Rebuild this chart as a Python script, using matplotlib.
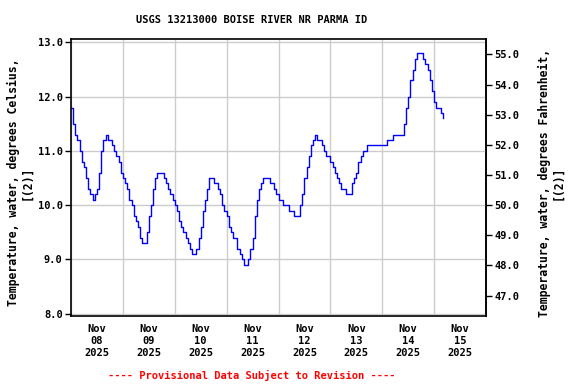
import numpy as np
import pandas as pd
import matplotlib
matplotlib.use("Agg")
import matplotlib.pyplot as plt
import matplotlib.dates as mdates

# hourly water temperature (deg C), starting 2025-11-08 00:00
temp_c = [
    11.8, 11.5, 11.3, 11.2, 11.0, 10.8, 10.7, 10.5, 10.3, 10.2, 10.1, 10.2,
    10.3, 10.6, 11.0, 11.2, 11.3, 11.2, 11.2, 11.1, 11.0, 10.9, 10.8, 10.6,
    10.5, 10.4, 10.3, 10.1, 10.0, 9.8, 9.7, 9.6, 9.4, 9.3, 9.3, 9.5,
    9.8, 10.0, 10.3, 10.5, 10.6, 10.6, 10.6, 10.5, 10.4, 10.3, 10.2, 10.1,
    10.0, 9.9, 9.7, 9.6, 9.5, 9.4, 9.3, 9.2, 9.1, 9.1, 9.2, 9.4,
    9.6, 9.9, 10.1, 10.3, 10.5, 10.5, 10.4, 10.4, 10.3, 10.2, 10.0, 9.9,
    9.8, 9.6, 9.5, 9.4, 9.4, 9.2, 9.1, 9.0, 8.9, 8.9, 9.0, 9.2,
    9.4, 9.8, 10.1, 10.3, 10.4, 10.5, 10.5, 10.5, 10.4, 10.4, 10.3, 10.2,
    10.1, 10.1, 10.0, 10.0, 10.0, 9.9, 9.9, 9.8, 9.8, 9.8, 10.0, 10.2,
    10.5, 10.7, 10.9, 11.1, 11.2, 11.3, 11.2, 11.2, 11.1, 11.0, 10.9, 10.9,
    10.8, 10.7, 10.6, 10.5, 10.4, 10.3, 10.3, 10.2, 10.2, 10.2, 10.4, 10.5,
    10.6, 10.8, 10.9, 11.0, 11.0, 11.1, 11.1, 11.1, 11.1, 11.1, 11.1, 11.1,
    11.1, 11.1, 11.2, 11.2, 11.2, 11.3, 11.3, 11.3, 11.3, 11.3, 11.5, 11.8,
    12.0, 12.3, 12.5, 12.7, 12.8, 12.8, 12.8, 12.7, 12.6, 12.5, 12.3, 12.1,
    11.9, 11.8, 11.8, 11.7, 11.6,
]
times = pd.date_range("2025-11-08 00:00", periods=len(temp_c), freq="h")

c_ticks = [8.0, 9.0, 10.0, 11.0, 12.0, 13.0]
f_ticks = [47.0, 48.0, 49.0, 50.0, 51.0, 52.0, 53.0, 54.0, 55.0]
day_lines = pd.date_range("2025-11-08", "2025-11-16", freq="D")
day_labels = pd.date_range("2025-11-08 12:00", periods=8, freq="D")

title = "USGS 13213000 BOISE RIVER NR PARMA ID"
footer = "---- Provisional Data Subject to Revision ----"

font = {"family": "DejaVu Sans Mono", "weight": "bold", "size": 7.5}
label_font = {**font, "size": 8.3}
plt.rcParams["font.family"] = "DejaVu Sans Mono"
plt.rcParams["font.weight"] = "bold"

fig = plt.figure(figsize=(5.76, 3.84), dpi=100)
ax = fig.add_axes([71 / 576, 68 / 384, 415 / 576, 277 / 384])

ax.plot(times, temp_c, color="#0000ff", lw=1, drawstyle="steps-post")

ax.set_xlim(day_lines[0], day_lines[-1])
ax.set_ylim(7.956, 13.063)
ax.set_yticks(c_ticks)
ax.set_yticklabels([f"{v:.1f}" for v in c_ticks], **font)

ax.set_xticks(day_lines)
ax.set_xticklabels([])
ax.set_xticks(day_labels, minor=True)
ax.set_xticklabels([d.strftime("%b\n%d\n%Y") for d in day_labels], minor=True, **font)
ax.tick_params(axis="x", which="both", length=0)
ax.tick_params(axis="x", which="minor", pad=6)
ax.tick_params(axis="y", length=4, width=1, pad=2)

ax.grid(True, which="major", color="#cccccc", lw=1)
ax.set_axisbelow(True)
for s in ax.spines.values():
    s.set_linewidth(1.2)

sec = ax.secondary_yaxis("right", functions=(lambda c: c * 1.8 + 32, lambda f: (f - 32) / 1.8))
sec.set_yticks(f_ticks)
sec.set_yticklabels([f"{v:.1f}" for v in f_ticks], **font)
sec.tick_params(length=4, width=1, pad=2)
sec.spines["right"].set_linewidth(1.2)

fig.text(252 / 576, 1 - 20 / 384, title, ha="center", va="center", **font)
fig.text(20.5 / 576, 1 - 182.5 / 384, "Temperature, water, degrees Celsius,\n[(2)]",
         rotation=90, ha="center", va="center", multialignment="center",
         linespacing=1.05, **label_font)
fig.text(551 / 576, 1 - 182.5 / 384, "Temperature, water, degrees Fahrenheit,\n[(2)]",
         rotation=90, ha="center", va="center", multialignment="center",
         linespacing=1.05, **label_font)
fig.text(252 / 576, 1 - 375 / 384, footer, ha="center", va="center",
         color="red", **font)

fig.savefig("out.png", dpi=100)
